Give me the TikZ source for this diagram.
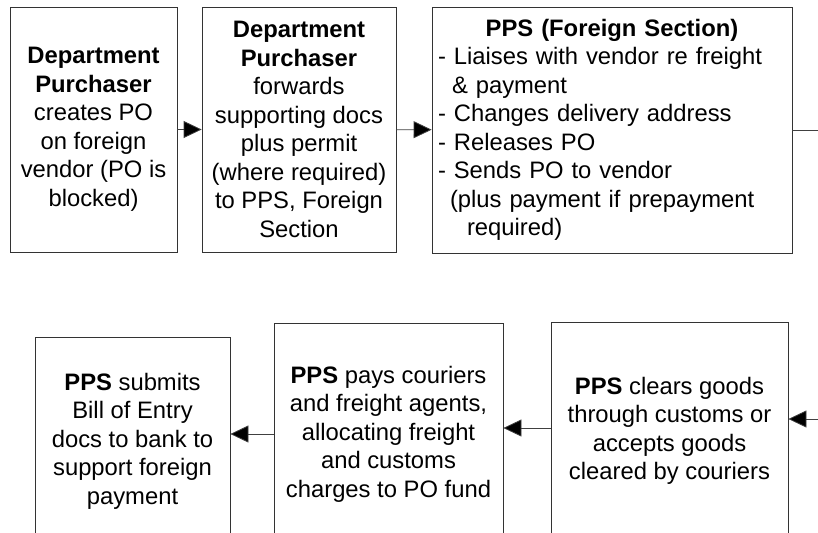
\documentclass[tikz,border=0pt]{standalone}
\usepackage{fontspec}
\setmainfont{Liberation Sans}
\usetikzlibrary{positioning, arrows.meta}

\begin{document}
\begin{tikzpicture}[x=1pt,y=-1pt]
        % Define styles for shapes
        \tikzset{
            box/.style={draw=black!80, line width=0.8pt, align=center, inner sep=4pt, font=\fontsize{23.8}{28.5}\selectfont},
            arr/.style={-{Triangle[length=18pt,width=17pt,fill=black]}, draw=black!75, line width=0.8pt}
        }
        \useasboundingbox (0,0) rectangle (818,532);
        % Draw shapes
        \node[box, minimum width=167pt, minimum height=245pt] (create) at (93.5,129.5) {
            \textbf{Department}\\
            \textbf{Purchaser}\\
            creates PO\\
            on foreign\\
            vendor (PO is\\
            blocked)
        };
        \node[box, minimum width=194pt, minimum height=245pt] (fwd) at (299,129.5) {
            \textbf{Department}\\
            \textbf{Purchaser}\\
            forwards\\
            supporting docs\\
            plus permit\\
            (where required)\\
            to PPS, Foreign\\
            Section
        };
        \node[box, align=left, inner xsep=6pt, text width=348pt, minimum height=246pt] (foreign) at (612,130) {
            \makebox[348pt]{\textbf{PPS (Foreign Section)}}\\
            - Liaises with vendor re freight\\
            \hspace*{14pt}\& payment\\
            - Changes delivery address\\
            - Releases PO\\
            - Sends PO to vendor\\
            \hspace*{12pt}(plus payment if prepayment\\
            \hspace*{29pt}required)
        };

        \node[box, minimum width=237pt, minimum height=218pt] (customs) at (669.5,431) {
            \textbf{PPS} clears goods\\
            through customs or\\
            accepts goods\\
            cleared by couriers
        };
        \node[box, minimum width=229pt, minimum height=222pt] (pay) at (388.5,434) {
            \textbf{PPS} pays couriers\\
            and freight agents,\\
            allocating freight\\
            and customs\\
            charges to PO fund
        };
        \node[box, minimum width=195pt, minimum height=208pt] (bank) at (132.5,441) {
            \textbf{PPS} submits\\
            Bill of Entry\\
            docs to bank to\\
            support foreign\\
            payment
        };
        % Draw arrows
        \draw[arr] (create) -- (fwd);
        \draw[arr] (fwd) -- (foreign);
        \coordinate (outF) at (818,128);
        \draw[draw=black!75, line width=0.8pt] (foreign.east) -- (foreign.east -| outF);
        \coordinate (inC) at (818,419);
        \draw[arr] (inC) -- (inC -| customs.east);
        \draw[arr] ([yshift=3pt]customs.west) -- ([yshift=3pt]customs.west -| pay.east);
        \draw[arr] (pay.west) -- (pay.west -| bank.east);
    \end{tikzpicture}
\end{document}
